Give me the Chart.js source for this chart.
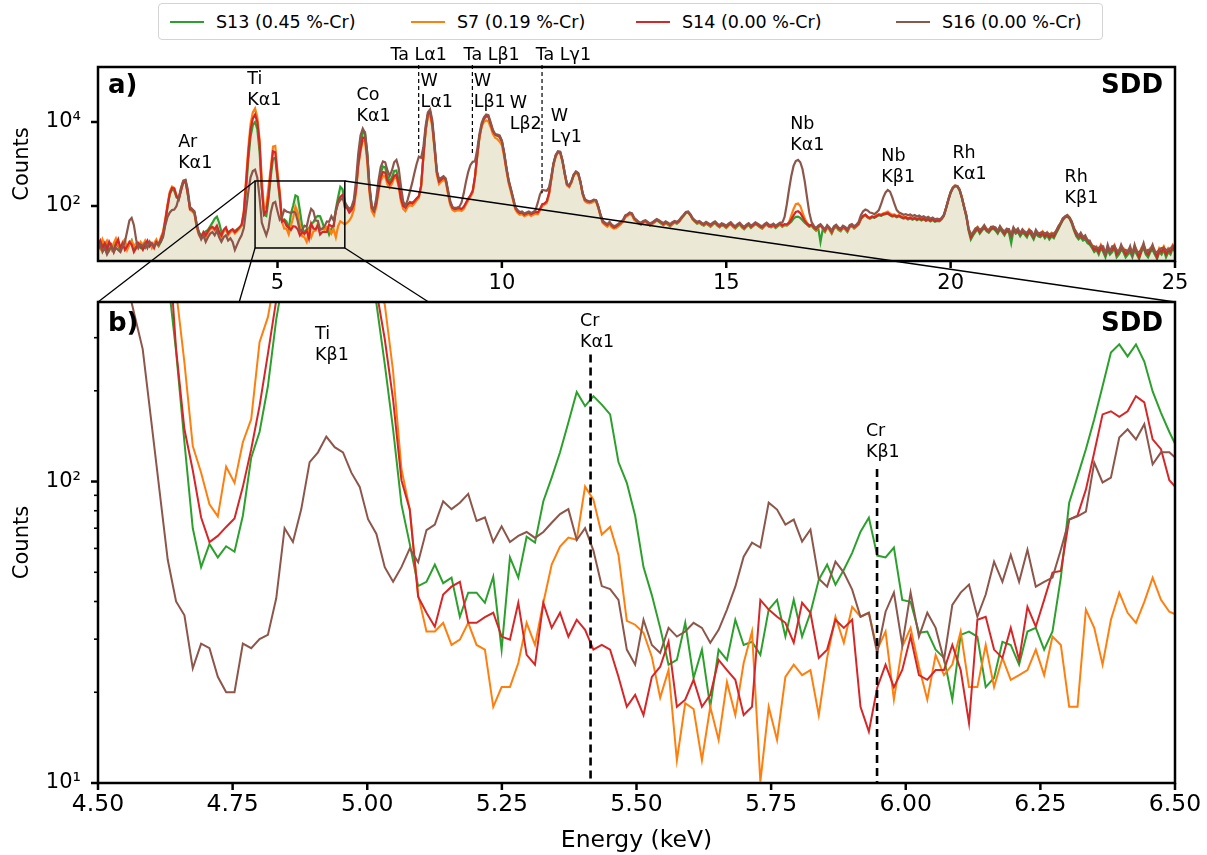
<!DOCTYPE html>
<html lang="en">
<head>
<meta charset="utf-8">
<title>SDD spectra</title>
<script src="https://cdn.jsdelivr.net/npm/chart.js@4.4.1/dist/chart.umd.min.js"></script>
<style>
  html, body { margin: 0; padding: 0; background: #fff; }
  body { position: relative; width: 1207px; height: 855px; overflow: hidden; font-family: "DejaVu Sans", sans-serif; color: #000; }
  canvas { position: absolute; left: 0; }
  #panelA { top: 45px; }
  #panelB { top: 300px; }
  #overlay { top: 0; pointer-events: none; }
  #legend { position: absolute; left: 158px; top: 3px; width: 945px; height: 37px; box-sizing: border-box; border: 1px solid #d4d4d4; border-radius: 4px; background: #fff; }
  #legend .item { position: absolute; top: 0; height: 35px; display: flex; align-items: center; font-size: 17.5px; white-space: nowrap; }
  #legend .swatch { width: 34px; height: 0; border-top: 2.6px solid; margin-right: 12px; }
</style>
</head>
<body>
<div id="legend"></div>
<canvas id="panelA" width="1207" height="255"></canvas>
<canvas id="panelB" width="1207" height="555"></canvas>
<canvas id="overlay" width="1207" height="855"></canvas>
<script>
// ---------------- data ----------------
const seriesLabels = ['S13 (0.45 %-Cr)', 'S7 (0.19 %-Cr)', 'S14 (0.00 %-Cr)', 'S16 (0.00 %-Cr)'];
const seriesColors = ['#2ca02c', '#ff7f0e', '#d62728', '#8c564b'];

// panel a: full spectrum, channels every 0.05 keV from 1.00 keV (one row = 1 keV)
const startA = 1.0, stepA = 0.05;
const S13a = [
  11,14,12,10,13,9,12,10,14,11,9,12,13,10,12,15,9,11,12,10,
  11,10,13,12,11,12,13,11,14,20,40,95,190,250,230,160,150,240,360,380,
  190,90,75,65,32,24,20,22,25,27,33,40,50,56,40,24,25,28,24,25,
  27,25,28,30,34,60,250,1300,4500,8500,10000,6800,2000,270,62,58,146,500,1350,1400,
  450,149,45,48,43,28,66,103,178,167,77,33,22,28,29,38,41,53,58,57,
  41,28,31,21,29,33,85,161,285,250,128,95,75,85,115,260,1100,2800,5500,5600,
  1900,300,95,80,120,300,620,870,830,520,380,480,680,700,400,170,105,95,110,125,
  120,130,150,170,300,1500,6300,14500,17500,8800,2400,640,370,420,470,410,210,115,88,82,
  85,87,82,92,115,145,175,220,480,1550,4400,8300,11800,13700,13300,8800,5900,4900,4700,4400,
  3400,1750,780,390,240,145,88,72,65,68,60,64,68,62,66,70,68,82,105,112,
  125,195,440,980,1580,1920,1880,1180,590,320,290,370,540,640,590,370,195,135,125,120,
  125,135,130,90,58,40,36,33,38,32,30,31,34,38,44,55,60,66,62,48,
  43,38,36,40,42,38,34,37,41,45,42,38,35,39,36,33,37,40,38,42,
  50,58,68,70,60,48,42,38,40,36,34,38,35,32,36,39,34,31,35,33,
  30,34,37,32,29,33,36,31,28,32,35,30,33,37,34,31,29,33,36,32,
  31,34,30,33,36,32,35,34,38,42,50,55,56,52,46,40,36,32,34,29,
  26,30,14,28,24,31,27,22,29,32,27,25,30,28,24,31,33,29,32,36,
  48,56,60,53,50,54,52,56,60,58,62,64,66,60,56,58,54,57,53,50,
  52,48,51,47,50,46,49,45,48,44,47,43,46,42,44,43,48,58,88,138,
  205,265,295,290,235,155,92,55,26,16,20,24,28,22,26,30,25,23,27,29,
  26,22,28,24,20,25,23,13,26,22,24,19,23,21,18,24,20,16,22,19,
  18,21,17,20,16,19,17,22,28,36,46,53,56,50,38,26,19,16,18,15,
  16,13,12,10,8,9,7,10,8,6,9,7,8,10,6,7,9,8,6,7,
  8,6,9,7,5.5,8,10,7,6,8,9,7,5.5,8,7,9,6,8,7,10,
  8
];
const S7a = [
  14,10,16,12,15,11,9,13,17,12,10,14,16,9,12,15,11,13,10,14,
  12,15,11,14,10,13,16,12,18,25,50,110,220,290,270,180,150,260,400,410,
  210,80,75,68,30,20,17,21,18,23,28,30,26,31,22,18,25,29,20,24,
  26,22,25,29,34,80,450,2500,9000,17000,21000,13000,3800,430,84,99,290,800,2600,2700,
  650,232,42,29,29,21,34,53,96,71,34,19,18,14,25,18,25,26,38,28,
  28,27,32,29,22,28,18,33,43,40,36,40,45,55,80,220,850,2000,3600,3500,
  1100,200,75,60,95,210,400,520,500,330,270,340,460,480,290,130,85,75,95,105,
  100,115,135,155,280,1400,6000,13000,15000,7500,2100,550,330,380,420,370,190,105,80,75,
  78,80,76,85,108,135,165,210,460,1450,4100,7800,10000,11000,10200,7500,5200,4200,3900,3400,
  2800,1500,700,350,220,135,82,68,62,64,57,60,64,58,62,66,64,78,100,108,
  118,185,420,930,1500,1850,1800,1120,560,310,280,355,520,610,560,355,185,130,120,116,
  120,130,126,88,56,39,35,32,37,31,29,30,33,37,42,54,58,64,60,46,
  44,39,37,41,43,39,35,38,42,46,43,39,36,40,37,34,38,41,39,43,
  51,59,69,71,61,49,43,39,41,37,35,39,36,33,37,40,35,32,36,34,
  31,35,38,33,30,34,37,32,29,33,36,31,34,38,35,32,30,34,37,33,
  32,35,31,34,37,33,36,35,42,60,85,110,115,100,70,50,40,35,35,30,
  27,31,34,29,25,32,28,23,30,33,28,26,31,29,25,32,34,30,33,37,
  50,57,62,56,52,57,55,60,64,63,67,70,74,66,62,63,58,61,57,54,
  55,51,54,50,53,49,52,48,51,47,50,46,49,45,47,46,51,61,92,145,
  215,275,305,300,245,165,98,60,30,20,24,28,32,26,30,34,29,27,31,33,
  30,26,32,28,24,29,27,21,30,26,28,23,27,25,22,28,24,20,26,23,
  22,25,21,24,20,23,21,26,32,40,50,57,60,54,42,30,23,20,22,19,
  19,16,14,12,10,11,9,12,10,8,11,9,10,12,8,9,11,10,8,9,
  10,8,11,9,7,10,12,9,8,10,11,9,7,10,9,11,8,10,9,12,
  10
];
const S14a = [
  12,15,10,13,9,14,11,8,12,16,10,13,9,11,14,12,8,10,13,11,
  9,12,15,11,13,10,14,12,16,22,45,100,200,270,260,170,140,230,370,390,
  200,85,80,70,35,22,18,24,20,25,30,32,28,34,24,20,27,31,22,26,
  28,24,27,31,36,70,350,1800,6500,12000,15000,10000,3200,275,63,75,178,650,2000,1900,
  520,187,42,45,34,31,27,33,32,28,20,24,22,26,17,38,29,28,35,21,
  24,24,24,36,33,33,75,125,164,183,94,90,70,80,110,250,1000,2200,4200,4300,
  1500,250,90,75,110,250,480,640,620,400,330,400,520,550,330,150,100,90,110,120,
  115,130,150,170,300,1500,6500,15000,18000,9000,2500,650,380,430,480,420,220,120,90,85,
  88,90,85,95,120,150,180,230,500,1600,4500,8500,12000,14000,13500,9000,6000,5000,4800,4500,
  3500,1800,800,400,250,150,90,75,68,70,62,66,70,64,68,72,70,85,110,115,
  130,200,450,1000,1600,1950,1900,1200,600,330,300,380,550,650,600,380,200,140,130,125,
  130,140,135,95,60,42,38,35,40,34,31,33,36,40,45,58,62,68,65,50,
  45,40,38,42,44,40,36,39,43,47,44,40,37,41,38,35,39,42,40,44,
  52,60,70,72,62,50,44,40,42,38,36,40,37,34,38,41,36,33,37,35,
  32,36,39,34,31,35,38,33,30,34,37,32,35,39,36,33,31,35,38,34,
  33,36,32,35,38,34,37,36,40,48,60,72,75,68,55,44,38,34,36,31,
  28,32,35,30,26,33,29,24,31,34,29,27,32,30,26,33,35,31,34,38,
  50,58,62,55,52,56,54,58,62,60,64,66,68,62,58,60,56,59,55,52,
  54,50,53,49,52,48,51,47,50,46,49,45,48,44,46,45,50,60,90,140,
  210,270,300,295,240,160,95,58,28,18,22,26,30,24,28,32,27,25,29,31,
  28,24,30,26,22,27,25,19,28,24,26,21,25,23,20,26,22,18,24,21,
  20,23,19,22,18,21,19,24,30,38,48,55,58,52,40,28,21,18,20,17,
  18,15,13,11,9,10,8,11,9,7,10,8,9,11,7,8,10,9,7,8,
  9,7,10,8,6,9,11,8,7,9,10,8,6,9,8,10,7,9,8,11,
  9
];
const S16a = [
  9,12,8,10,7,9,11,8,10,9,8,11,14,25,45,52,35,16,10,12,
  11,13,10,14,12,11,13,12,14,18,35,55,70,80,82,100,160,270,400,420,
  250,95,85,75,38,22,16,20,14,18,22,24,20,26,18,14,18,20,15,17,
  14,9,12,16,20,30,80,220,480,680,730,470,161,40,28,20,30,70,116,125,
  75,47,54,81,74,71,68,73,70,44,25,27,34,32,56,85,75,45,44,27,
  29,33,43,42,57,45,75,116,140,155,118,100,85,95,140,400,1800,4800,7000,5500,
  1800,300,100,80,150,400,850,1150,1100,700,520,700,1100,1250,800,300,130,100,140,220,
  350,600,1000,1500,1400,2500,8000,17000,20000,11000,3000,700,440,470,510,450,240,130,95,90,
  92,95,120,200,380,650,950,1130,1150,2200,5200,9500,13000,15000,14500,9800,6500,5200,5000,4800,
  3600,1900,850,420,260,160,95,80,72,74,66,70,74,68,72,80,120,190,240,235,
  230,280,500,1050,1650,2000,1950,1250,620,340,310,390,560,660,610,390,205,145,135,128,
  132,142,137,97,62,44,40,37,42,36,33,35,38,42,47,60,64,70,67,52,
  47,42,40,44,46,42,38,41,45,49,46,42,39,43,40,37,41,44,42,46,
  54,62,72,74,64,52,46,42,44,40,38,42,39,36,40,43,38,35,39,37,
  34,38,41,36,33,37,40,35,32,36,39,34,37,41,38,35,33,37,40,36,
  35,38,34,37,40,40,55,110,250,520,900,1180,1250,1100,750,380,160,70,42,34,
  30,34,37,32,28,35,31,26,33,36,31,29,34,32,28,35,37,33,36,42,
  60,75,82,78,70,68,64,70,80,110,160,210,240,220,160,110,80,70,66,62,
  64,60,63,58,61,56,59,54,57,52,55,50,53,48,50,48,52,62,92,145,
  212,272,308,296,248,162,96,61,29,21,23,29,31,27,29,35,28,26,32,32,
  31,25,33,27,25,28,28,20,31,25,29,22,28,24,23,27,25,19,27,22,
  23,24,22,23,21,22,22,25,33,39,51,56,61,53,43,29,24,19,23,18,
  20,15,15,11,11,10,10,11,11,7,12,8,11,11,9,8,12,9,9,8,
  11,7,12,8,8,9,13,8,9,9,12,8,8,9,10,10,9,9,10,11,
  11
];

// panel b: zoom 4.5-6.5 keV, detector channels of 15.5 eV from 4.49 keV (rows of 10)
const startB = 4.49, stepB = 0.0155;
const S13b = [
  9000,10000,9800,8500,6800,5200,3500,2000,1000,480,
  270,135,70,52,62,56,61,58.5,77,120,
  146,207,345,500,750,1000,1300,1450,1500,1400,
  1150,850,620,450,390,245,149,84,62,45,
  46.5,53,46,48,35.6,42.8,42.8,39.6,48.3,27.7,
  56,48,65.6,62.7,86,103,125,157,198,178,
  192,180,167,116,99,77,52,42,32.7,24.7,
  25.6,34,22.3,27.7,17.9,27.7,25.6,34.8,28.7,29.4,
  26.6,37.6,40.5,30.6,40.5,30.6,36.7,47.2,53,45.5,
  51,58,68.2,75.9,56.8,56,60.4,40.5,39.9,31.5,
  31.8,27.7,26,18.9,31,31.8,30.6,20.8,22.3,29.4,
  28.7,24.7,31.8,32.7,27.7,31.8,48,85,104,128,
  161,207,268,285,260,285,250,199,169,146,
  128
];
const S7b = [
  20000,21000,20000,17000,13000,9500,6500,3800,1900,850,
  430,248,131,107,84,76.6,112,99,135,161,
  290,351,500,800,1300,1900,2400,2750,2800,2600,
  2100,1500,1000,650,450,387,232,110,80.7,42,
  31.8,31.8,34,28.7,29.9,34,28.7,27.7,17.9,20.8,
  20.8,25,34,28.7,39.6,53,60.8,65.2,64.1,96.2,
  87.1,66.7,70.7,57.1,34.5,33.5,31.5,26.2,19.2,23.7,
  11.9,18.4,17.6,11.9,17.9,13.9,21.6,16.8,25,31.8,
  10.1,17.9,13.9,22.5,24.7,22.8,23.7,16.8,26,35.6,
  29.2,38.4,35.6,36.7,27.7,31.8,18.9,28.3,32.7,24.3,
  18.9,26.6,22.8,24.7,31.8,20.8,20.8,28.7,20.8,26,
  22,22.8,23.7,27.7,22.8,30.6,28.7,17.9,17.9,37.6,
  32.7,24.7,34.8,42.8,36.7,34,39.9,48,40.5,37,
  36
];
const S14b = [
  14000,15000,14500,12500,10000,8000,5500,3200,1600,700,
  275,149,109,76,63,66,70.7,75.4,96,128,
  178,265,400,650,1000,1400,1800,2050,2100,1950,
  1600,1200,800,520,430,297,187,101,80.7,41.5,
  36.7,33,42.2,44.8,46.5,34,34,35.5,36.7,30.6,
  29.9,39.6,26.6,24.7,39.6,32.7,36.7,30.6,34.8,32.2,
  27.7,28.7,27.7,22.5,17.9,19.6,16.8,22.5,24.3,29.4,
  17.9,18.9,22,17.9,19.6,25.6,23.7,22,16.8,17.9,
  40.5,37.6,35.6,34,29.2,39.6,36.7,26,27.7,34.8,
  32.7,34.8,17.9,14.8,20.7,24.7,20.8,23.7,30.6,22.8,
  22,23.7,23.7,28.7,23.7,15.8,34.8,35.6,27.7,26,
  32.7,25.6,38.4,33,40.5,49.9,50.5,74.8,77.1,94,
  124.8,167,171,164,171,192,183,138,128,101,
  94
];
const S16b = [
  700,730,690,600,470,359,275,161,94,55,
  40,36,24,29,28,22.5,20,20,29,28,
  30,31,41,70,63,81,116,125,141,130,
  125,107,96,75,67,52,46.5,52,60,54,
  69,72,86,81,85,91,74,76,63,71,
  63,66,68,65,68,73,78,81,64,70,
  59,45,44,40.5,27.7,24.7,34.8,28.7,27,32.7,
  30.6,31.8,34,32.7,29.2,32.2,37.6,44.8,56.3,62.7,
  60.4,85.1,80.7,72,74.8,63.2,69.3,47.6,44.8,54.2,
  49.9,43.8,35.6,36.7,27,37,42.8,28.7,42.8,30.6,
  36.7,32.7,25.6,39,42.8,45.5,35.6,42.2,54.2,46.5,
  57.1,46.5,59.4,44.8,46.5,48,59.4,74.8,76.6,79.5,
  115.6,99.3,103,140,149,138,155,114,125,125,
  118
];

const xTicksA = [5, 10, 15, 20, 25];
const yTicksA = [1e2, 1e4];
const xTicksB = [4.5, 4.75, 5, 5.25, 5.5, 5.75, 6, 6.25, 6.5];
const yTicksB = [10, 20, 30, 40, 50, 60, 70, 80, 90, 100, 200, 300];

// line labels: text, energy of left edge (keV), counts at first line
const peaksA = [
  ['Ar\nKα1', 2.786, 3340], ['Ti\nKα1', 4.326, 105700], ['Co\nKα1', 6.759, 43900],
  ['W\nLα1', 8.188, 94600], ['W\nLβ1', 9.371, 94600], ['W\nLβ2', 10.174, 28300],
  ['W\nLγ1', 11.089, 13900], ['Nb\nKα1', 16.424, 8960], ['Nb\nKβ1', 18.455, 1550],
  ['Rh\nKα1', 20.04, 1830], ['Rh\nKβ1', 22.54, 490]
];
// Ta lines: label, text left (keV), line energy (keV), lower end (counts)
const taLines = [['Ta Lα1', 7.518, 8.146, 1600], ['Ta Lβ1', 9.147, 9.343, 1600], ['Ta Lγ1', 10.754, 10.895, 200]];
const peaksB = [['Ti\nKβ1', 4.903, 308], ['Cr\nKα1', 5.395, 340], ['Cr\nKβ1', 5.926, 147]];
const crLines = [[5.4147, 264], [5.9467, 110]];

// ---------------- chart setup ----------------
Chart.defaults.font.family = '"DejaVu Sans", sans-serif';
Chart.defaults.color = '#000';

const FONT = '"DejaVu Sans", sans-serif';
const SUP = { 1: '\u00b9', 2: '\u00b2', 3: '\u00b3', 4: '\u2074', 5: '\u2075' };
function powLabel(v) {
  const p = Math.log10(v);
  return Math.abs(p - Math.round(p)) < 1e-6 ? '10' + SUP[Math.round(p)] : '';
}
function points(start, step, ys) {
  return ys.map((y, i) => ({ x: +(start + i * step).toFixed(4), y: y }));
}
function datasets(start, step, arrs, withFill, width) {
  // brown on top, green at the bottom carrying the beige fill
  return arrs.map((ys, k) => ({
    label: seriesLabels[k],
    data: points(start, step, ys),
    borderColor: seriesColors[k],
    borderWidth: width,
    pointRadius: 0,
    tension: 0,
    clip: 0,
    order: 3 - k,
    fill: withFill && k === 0 ? 'start' : false,
    backgroundColor: withFill && k === 0 ? '#ece8d6' : 'transparent'
  }));
}

function drawText(ctx, text, x, y, gap) {
  text.split('\n').forEach((ln, k) => ctx.fillText(ln, x, y + k * gap));
}

// frame, outward ticks and panel captions
function framePlugin(tag, tagDy) {
  return {
    id: 'frame' + tag,
    afterDraw(chart) {
      const { ctx, chartArea: a, scales } = chart;
      ctx.save();
      ctx.strokeStyle = '#000';
      ctx.lineCap = 'butt';
      scales.x.ticks.forEach(t => {
        const px = scales.x.getPixelForValue(t.value);
        ctx.lineWidth = 2.5;
        ctx.beginPath(); ctx.moveTo(px, a.bottom); ctx.lineTo(px, a.bottom + 7); ctx.stroke();
      });
      scales.y.ticks.forEach(t => {
        const py = scales.y.getPixelForValue(t.value);
        const major = powLabel(t.value) !== '';
        ctx.lineWidth = major ? 2.5 : 1.6;
        ctx.beginPath(); ctx.moveTo(a.left, py); ctx.lineTo(a.left - (major ? 7 : 4), py); ctx.stroke();
      });
      ctx.lineWidth = 2.5;
      ctx.strokeRect(a.left, a.top, a.right - a.left, a.bottom - a.top);
      ctx.fillStyle = '#000';
      ctx.font = 'bold 26px ' + FONT;
      ctx.textBaseline = 'middle';
      ctx.textAlign = 'left';
      ctx.fillText(tag, a.left + 10, a.top + tagDy);
      ctx.textAlign = 'right';
      ctx.fillText('SDD', a.right - 12, a.top + tagDy);
      ctx.restore();
    }
  };
}

const labelsA = {
  id: 'labelsA',
  afterDatasetsDraw(chart) {
    const { ctx, chartArea: a, scales: { x, y } } = chart;
    ctx.save();
    ctx.fillStyle = '#000';
    ctx.strokeStyle = '#000';
    ctx.font = '17.5px ' + FONT;
    ctx.textBaseline = 'middle';
    ctx.textAlign = 'left';
    peaksA.forEach(([t, e, c]) => drawText(ctx, t, x.getPixelForValue(e), y.getPixelForValue(c), 21));
    ctx.lineWidth = 1.2;
    ctx.setLineDash([4, 3]);
    taLines.forEach(([t, te, e, c]) => {
      const px = x.getPixelForValue(e);
      ctx.beginPath(); ctx.moveTo(px, a.top - 2); ctx.lineTo(px, y.getPixelForValue(c)); ctx.stroke();
      ctx.fillText(t, x.getPixelForValue(te), a.top - 12);
    });
    ctx.restore();
  }
};

const labelsB = {
  id: 'labelsB',
  afterDatasetsDraw(chart) {
    const { ctx, chartArea: a, scales: { x, y } } = chart;
    ctx.save();
    ctx.fillStyle = '#000';
    ctx.strokeStyle = '#000';
    ctx.font = '17.5px ' + FONT;
    ctx.textBaseline = 'middle';
    ctx.textAlign = 'left';
    peaksB.forEach(([t, e, c]) => drawText(ctx, t, x.getPixelForValue(e), y.getPixelForValue(c), 21.5));
    ctx.lineWidth = 2.6;
    ctx.setLineDash([8, 5]);
    crLines.forEach(([e, c]) => {
      const px = x.getPixelForValue(e);
      ctx.beginPath(); ctx.moveTo(px, y.getPixelForValue(c)); ctx.lineTo(px, a.bottom); ctx.stroke();
    });
    ctx.restore();
  }
};

function baseOptions(padTop, xHeight, xFont) {
  return {
    responsive: false,
    animation: false,
    events: [],
    layout: { padding: { left: 0, right: 32, top: padTop, bottom: 0 } },
    plugins: { legend: { display: false }, tooltip: { enabled: false }, filler: { drawTime: 'beforeDatasetsDraw' } },
    scales: {
      x: {
        type: 'linear',
        grid: { display: false, drawTicks: false },
        border: { display: false },
        ticks: { font: { family: FONT, size: xFont }, color: '#000', padding: 10, maxRotation: 0, autoSkip: false },
        afterFit: s => { s.height = xHeight; s.paddingLeft = 0; s.paddingRight = 0; }
      },
      y: {
        type: 'logarithmic',
        grid: { display: false, drawTicks: false },
        border: { display: false },
        ticks: { font: { family: FONT, size: 21 }, color: '#000', padding: 17, autoSkip: false, callback: v => powLabel(v) },
        title: { display: true, text: 'Counts', font: { family: FONT, size: 21 }, color: '#000', padding: { top: 10, bottom: 0 } },
        afterFit: s => { s.width = 98; s.paddingTop = 0; s.paddingBottom = 0; }
      }
    }
  };
}

// panel a
const optA = baseOptions(22, 39, 21);
optA.scales.x.min = 1; optA.scales.x.max = 25;
optA.scales.x.afterBuildTicks = s => { s.ticks = xTicksA.map(v => ({ value: v })); };
optA.scales.x.ticks.callback = v => String(v);
optA.scales.y.min = 4.9; optA.scales.y.max = 2.04e5;
optA.scales.y.afterBuildTicks = s => { s.ticks = yTicksA.map(v => ({ value: v })); };

const chartA = new Chart(document.getElementById('panelA'), {
  type: 'line',
  data: { datasets: datasets(startA, stepA, [S13a, S7a, S14a, S16a], true, 2.2) },
  options: optA,
  plugins: [labelsA, framePlugin('a)', 19)]
});

// panel b
const optB = baseOptions(2, 72, 23.5);
optB.scales.x.min = 4.5; optB.scales.x.max = 6.5;
optB.scales.x.afterBuildTicks = s => { s.ticks = xTicksB.map(v => ({ value: v })); };
optB.scales.x.ticks.callback = v => Number(v).toFixed(2);
optB.scales.x.ticks.padding = 8;
optB.scales.x.title = { display: true, text: 'Energy (keV)', font: { family: FONT, size: 23.5 }, color: '#000', padding: { top: 3, bottom: 0 } };
optB.scales.y.min = 10; optB.scales.y.max = 394;
optB.scales.y.afterBuildTicks = s => { s.ticks = yTicksB.map(v => ({ value: v })); };

const chartB = new Chart(document.getElementById('panelB'), {
  type: 'line',
  data: { datasets: datasets(startB, stepB, [S13b, S7b, S14b, S16b], false, 2) },
  options: optB,
  plugins: [labelsB, framePlugin('b)', 22)]
});

// zoom box in panel a and its connector lines to panel b
function drawZoomGuides() {
  const ctx = document.getElementById('overlay').getContext('2d');
  const offA = 45, offB = 300;
  const xa = chartA.scales.x, ya = chartA.scales.y;
  const xb = chartB.scales.x, yb = chartB.scales.y;
  const l = xa.getPixelForValue(xb.min), r = xa.getPixelForValue(xb.max);
  const t = ya.getPixelForValue(yb.max) + offA, b = ya.getPixelForValue(yb.min) + offA;
  const B = chartB.chartArea;
  const bl = B.left, br = B.right, bt = B.top + offB, bb = B.bottom + offB;
  ctx.save();
  ctx.beginPath();
  ctx.rect(0, 0, 1207, 855);
  ctx.rect(bl, bt, br - bl, bb - bt);
  ctx.clip('evenodd');
  ctx.strokeStyle = '#000';
  ctx.lineWidth = 1.3;
  [[l, t, bl, bt], [r, t, br, bt], [l, b, bl, bb], [r, b, br, bb]].forEach(([x1, y1, x2, y2]) => {
    ctx.beginPath(); ctx.moveTo(x1, y1); ctx.lineTo(x2, y2); ctx.stroke();
  });
  ctx.lineWidth = 1.5;
  ctx.strokeRect(l, t, r - l, b - t);
  ctx.restore();
}
drawZoomGuides();

// legend
const legendEl = document.getElementById('legend');
const legendLeft = [11, 252, 477, 737];
seriesLabels.forEach((name, k) => {
  const item = document.createElement('div');
  item.className = 'item';
  item.style.left = legendLeft[k] + 'px';
  const sw = document.createElement('span');
  sw.className = 'swatch';
  sw.style.borderTopColor = seriesColors[k];
  const tx = document.createElement('span');
  tx.textContent = name;
  item.appendChild(sw);
  item.appendChild(tx);
  legendEl.appendChild(item);
});
</script>
</body>
</html>
